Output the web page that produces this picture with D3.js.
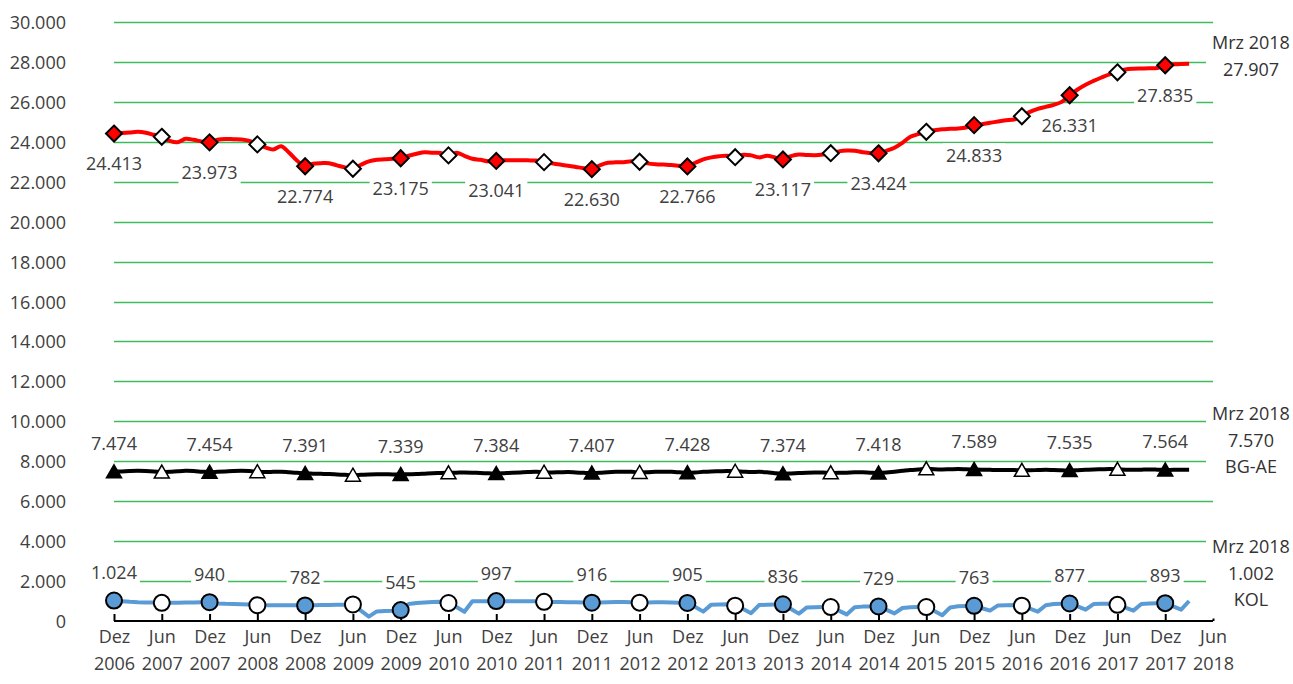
<!DOCTYPE html>
<html>
<head>
<meta charset="utf-8">
<script src="https://cdn.jsdelivr.net/npm/d3@7"></script>
<style>
body { margin: 0; background: #fff; }
text { font-family: "Open Sans", sans-serif; }
</style>
</head>
<body>
<div id="chart"></div>
<script>
var width = 1293, height = 684;

// half-year ticks, Dez 2006 .. Jun 2018
var tickLabels = ["Dez 2006", "Jun 2007", "Dez 2007", "Jun 2008", "Dez 2008", "Jun 2009",
  "Dez 2009", "Jun 2010", "Dez 2010", "Jun 2011", "Dez 2011", "Jun 2012", "Dez 2012",
  "Jun 2013", "Dez 2013", "Jun 2014", "Dez 2014", "Jun 2015", "Dez 2015", "Jun 2016",
  "Dez 2016", "Jun 2017", "Dez 2017", "Jun 2018"];
var yTicks = [0, 2000, 4000, 6000, 8000, 10000, 12000, 14000, 16000, 18000, 20000,
  22000, 24000, 26000, 28000, 30000];

// monthly values, Dez 2006 .. Mrz 2018
var totalValues = [24413,
  24440, 24470, 24500, 24450, 24350, 24250, 24050, 23980, 24150, 24100, 24020, 23973,
  24100, 24140, 24130, 24120, 24050, 23870, 23720, 23620, 23780, 23450, 23050, 22774,
  22900, 22930, 22930, 22820, 22720, 22650, 22850, 23020, 23100, 23120, 23150, 23175,
  23300, 23400, 23480, 23450, 23440, 23320, 23450, 23300, 23150, 23100, 23020, 23041,
  23070, 23080, 23080, 23070, 23060, 22980, 22920, 22860, 22800, 22740, 22680, 22630,
  22820, 22950, 22970, 22980, 23020, 23000, 22920, 22880, 22860, 22840, 22800, 22766,
  22950, 23120, 23220, 23280, 23300, 23230, 23350, 23320, 23220, 23300, 23220, 23117,
  23280, 23360, 23340, 23330, 23360, 23430, 23520, 23560, 23550, 23480, 23430, 23424,
  23550, 23700, 23950, 24250, 24380, 24500, 24580, 24630, 24650, 24670, 24720, 24833,
  24880, 24950, 25020, 25080, 25120, 25280, 25500, 25650, 25750, 25850, 26000, 26331,
  26620, 26860, 27050, 27220, 27380, 27480, 27620, 27660, 27670, 27680, 27700, 27835,
  27880, 27900, 27907];

var bgaeValues = [7474,
  7490, 7510, 7520, 7510, 7490, 7460, 7470, 7500, 7520, 7510, 7480, 7454,
  7470, 7490, 7510, 7520, 7510, 7480, 7460, 7470, 7480, 7450, 7420, 7391,
  7380, 7370, 7360, 7340, 7320, 7300, 7320, 7340, 7350, 7350, 7340, 7339,
  7350, 7360, 7380, 7400, 7410, 7420, 7430, 7440, 7430, 7410, 7400, 7384,
  7400, 7420, 7440, 7460, 7470, 7450, 7440, 7450, 7460, 7440, 7420, 7407,
  7420, 7450, 7470, 7480, 7470, 7440, 7450, 7470, 7480, 7470, 7450, 7428,
  7440, 7470, 7490, 7500, 7510, 7500, 7480, 7460, 7470, 7450, 7400, 7374,
  7390, 7410, 7430, 7440, 7440, 7420, 7420, 7430, 7450, 7450, 7430, 7418,
  7440, 7480, 7520, 7560, 7590, 7620, 7600, 7590, 7600, 7610, 7600, 7589,
  7580, 7570, 7560, 7560, 7560, 7550, 7550, 7560, 7570, 7560, 7550, 7535,
  7550, 7570, 7590, 7600, 7610, 7600, 7580, 7570, 7580, 7590, 7580, 7564,
  7570, 7570, 7570];

var kolValues = [1024,
  990, 960, 940, 930, 925, 910, 915, 920, 925, 930, 935, 940,
  880, 860, 850, 840, 830, 790, 795, 790, 790, 785, 785, 782,
  790, 800, 800, 810, 820, 830, 520, 220, 480, 500, 510, 545,
  850, 900, 930, 950, 960, 900, 700, 460, 990, 995, 995, 997,
  995, 995, 990, 990, 985, 960, 955, 950, 945, 935, 925, 916,
  930, 945, 955, 950, 945, 920, 930, 940, 935, 925, 915, 905,
  700, 470, 820, 830, 835, 770, 600, 390, 800, 815, 830, 836,
  600, 370, 680, 690, 700, 700, 520, 330, 690, 720, 730, 729,
  560, 380, 650, 690, 700, 700, 500, 290, 680, 740, 755, 763,
  640, 520, 780, 790, 800, 770, 620, 470, 790, 850, 870, 877,
  730, 570, 850, 860, 870, 810, 670, 520, 850, 880, 890, 893,
  730, 570, 1002];

var lastLabel = "Mrz 2018";

var fmt = d3.formatLocale({decimal: ",", thousands: ".", grouping: [3], currency: ["", "€"]}).format(",d");

var x = d3.scaleLinear().domain([0, tickLabels.length * 6 - 6]).range([114, 1213]);
var y = d3.scaleLinear().domain([0, 30000]).range([621, 22]);

var svg = d3.select("#chart").append("svg").attr("width", width).attr("height", height);

// gridlines
svg.append("g").selectAll("line").data(yTicks.slice(1)).enter().append("line")
  .attr("x1", x(0)).attr("x2", x.range()[1])
  .attr("y1", function(d) { return Math.round(y(d)) + 0.5; })
  .attr("y2", function(d) { return Math.round(y(d)) + 0.5; })
  .attr("stroke", "#3fba5d").attr("stroke-width", 1.3);

// y axis labels
var yAxis = svg.append("g").attr("transform", "translate(66,0)")
  .call(d3.axisLeft(y).tickValues(yTicks).tickSize(0).tickPadding(0).tickFormat(fmt));
yAxis.select(".domain").remove();
yAxis.selectAll("text").attr("font-size", 18).attr("fill", "#404040")
  .attr("font-family", "Open Sans, sans-serif").attr("dy", "0.36em");

// x axis
var tickIdx = tickLabels.map(function(d, i) { return i * 6; });
var xAxis = svg.append("g").attr("transform", "translate(0," + y(0) + ")")
  .call(d3.axisBottom(x).tickValues(tickIdx).tickSize(-7).tickFormat(""));
xAxis.select(".domain").attr("stroke", "#000").attr("stroke-width", 2).attr("d", "M" + x(0) + ",0H" + x.range()[1]);
xAxis.selectAll(".tick line").attr("stroke", "#000").attr("stroke-width", 2);
xAxis.selectAll(".tick").each(function(d, i) {
  var parts = tickLabels[i].split(" ");
  var t = d3.select(this).append("text").attr("fill", "#404040").attr("font-size", 18)
    .attr("font-family", "Open Sans, sans-serif").attr("text-anchor", "middle");
  t.append("tspan").attr("x", 0).attr("y", 22).text(parts[0]);
  t.append("tspan").attr("x", 0).attr("y", 49).text(parts[1]);
});

// lines
function drawLine(values, color, curve) {
  svg.append("path").datum(values)
    .attr("fill", "none").attr("stroke", color).attr("stroke-width", 4)
    .attr("stroke-linejoin", "round")
    .attr("d", d3.line().x(function(d, i) { return x(i); }).y(function(d) { return y(d); }).curve(curve));
}
drawLine(totalValues, "#ff0000", d3.curveCatmullRom);
drawLine(bgaeValues, "#000000", d3.curveCatmullRom);
drawLine(kolValues, "#5b9bd5", d3.curveLinear);

var markIdx = d3.range(0, 133, 6);

// diamonds
svg.append("g").selectAll("path").data(markIdx).enter().append("path")
  .attr("d", "M0,-8L8,0L0,8L-8,0Z")
  .attr("transform", function(d) { return "translate(" + x(d) + "," + y(totalValues[d]) + ")"; })
  .attr("fill", function(d) { return d % 12 === 0 ? "#ff0000" : "#ffffff"; })
  .attr("stroke", "#000").attr("stroke-width", 2).attr("stroke-linejoin", "miter");

// triangles
svg.append("g").selectAll("path").data(markIdx).enter().append("path")
  .attr("d", "M0,-7L7.5,6L-7.5,6Z")
  .attr("transform", function(d) { return "translate(" + x(d) + "," + y(bgaeValues[d]) + ")"; })
  .attr("fill", function(d) { return d % 12 === 0 ? "#000000" : "#ffffff"; })
  .attr("stroke", "#000").attr("stroke-width", 1.5);

// circles
svg.append("g").selectAll("circle").data(markIdx).enter().append("circle")
  .attr("cx", function(d) { return x(d); }).attr("cy", function(d) { return y(kolValues[d]); })
  .attr("r", 8)
  .attr("fill", function(d) { return d % 12 === 0 ? "#5b9bd5" : "#ffffff"; })
  .attr("stroke", "#000").attr("stroke-width", 2);

// data labels with white boxes
var labels = svg.append("g");
function boxLabel(txt, cx, cy) {
  var g = labels.append("g");
  var t = g.append("text").attr("x", cx).attr("y", cy).attr("dy", "0.36em")
    .attr("text-anchor", "middle").attr("font-size", 18).attr("fill", "#404040").text(txt);
  var bb = t.node().getBBox();
  g.insert("rect", "text").attr("x", bb.x - 3).attr("y", cy - 12)
    .attr("width", bb.width + 6).attr("height", 24).attr("fill", "#fff");
}
var dezIdx = markIdx.filter(function(d) { return d % 12 === 0; });
dezIdx.forEach(function(d) {
  boxLabel(fmt(totalValues[d]), x(d), y(totalValues[d]) + 30);
  boxLabel(fmt(bgaeValues[d]), x(d), y(bgaeValues[d]) - 28);
  boxLabel(fmt(kolValues[d]), x(d), y(kolValues[d]) - 28);
});

// right-hand notes
function note(lines, top) {
  var g = svg.append("g");
  g.append("rect").attr("x", 1206).attr("y", top - 14).attr("width", 87)
    .attr("height", lines.length * 26.5 + 6).attr("fill", "#fff");
  lines.forEach(function(s, i) {
    g.append("text").attr("x", 1251).attr("y", top + i * 26.5).attr("dy", "0.36em")
      .attr("text-anchor", "middle").attr("font-size", 18).attr("fill", "#333").text(s);
  });
}
var n = totalValues.length - 1;
note([lastLabel, fmt(totalValues[n])], 43);
note([lastLabel, fmt(bgaeValues[n]), "BG-AE"], 414);
note([lastLabel, fmt(kolValues[n]), "KOL"], 547);
</script>
</body>
</html>
